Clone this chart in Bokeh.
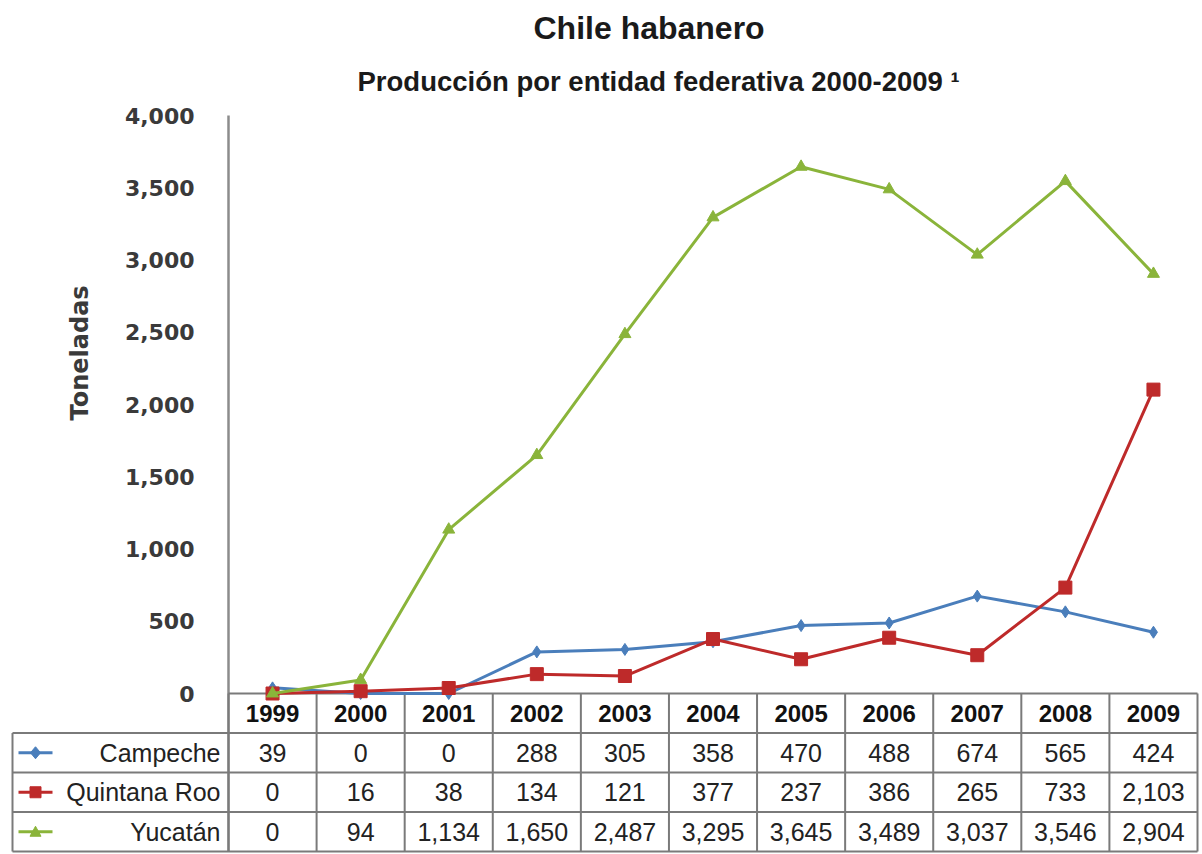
from bokeh.plotting import figure
from bokeh.models import Range1d, FixedTicker, NumeralTickFormatter, Title
from bokeh.embed import file_html
from bokeh.resources import INLINE
from bokeh.core.properties import value

# ---------------- data ----------------
years = [1999, 2000, 2001, 2002, 2003, 2004, 2005, 2006, 2007, 2008, 2009]
campeche = [39, 0, 0, 288, 305, 358, 470, 488, 674, 565, 424]
quintana_roo = [0, 16, 38, 134, 121, 377, 237, 386, 265, 733, 2103]
yucatan = [0, 94, 1134, 1650, 2487, 3295, 3645, 3489, 3037, 3546, 2904]
series_names = ["Campeche", "Quintana Roo", "Yucatán"]
y_ticks = [0, 500, 1000, 1500, 2000, 2500, 3000, 3500, 4000]
title_text = "Chile habanero"
subtitle_text = "Producción por entidad federativa 2000-2009 ¹"
y_label = "Toneladas"

# ---------------- styles ----------------
colors = ["#4A7EBB", "#BE2A2A", "#8AB43A"]
markers = ["diamond", "square", "triangle"]
marker_sizes = [12, 13, 12]
series = [campeche, quintana_roo, yucatan]
font = "Liberation Sans"
grid_col = "#7a7a7a"

BORDER_L = 228
BORDER_T = 115
FRAME_W = 969          # chart frame width (px)
CHART_H = 578          # height of 0..4000 part (px)
ROW_PX = 39.5          # table row height (px)
N_ROWS = 4
TABLE_H = ROW_PX * N_ROWS
LEFT_COL = 216         # width of the label column (px)

px_per_year = FRAME_W / len(years)
x0 = years[0] - 0.5
x1 = years[-1] + 0.5
px_per_val = CHART_H / y_ticks[-1]
y_bottom = -TABLE_H / px_per_val

p = figure(width=BORDER_L + FRAME_W + 5, height=int(BORDER_T + CHART_H + TABLE_H + 2),
           x_range=Range1d(x0, x1), y_range=Range1d(y_bottom, y_ticks[-1]),
           output_backend="svg", toolbar_location=None,
           min_border_left=BORDER_L, min_border_right=5, min_border_top=BORDER_T,
           min_border_bottom=2)
p.xaxis.visible = False
p.xgrid.visible = False
p.ygrid.visible = False
p.outline_line_color = None

# table coordinate system: rows 0..4 downward, 0 at chart baseline
p.extra_y_ranges = {"table": Range1d(start=N_ROWS, end=-CHART_H / ROW_PX)}

ya = p.yaxis[0]
ya.ticker = FixedTicker(ticks=y_ticks)
ya.formatter = NumeralTickFormatter(format="0,0")
ya.major_tick_line_color = None
ya.minor_tick_line_color = None
ya.axis_line_color = "#8c8c8c"
ya.axis_line_width = 2.5
ya.major_label_text_font = "DejaVu Sans"
ya.major_label_text_font_style = "bold"
ya.major_label_text_font_size = "22px"
ya.major_label_text_color = "#3a3a3a"
ya.major_label_standoff = 28

p.add_layout(Title(text=y_label, align="left", offset=int(TABLE_H) + 273, standoff=56,
                   text_font="DejaVu Sans", text_font_style="bold",
                   text_font_size="24px", text_color="#3a3a3a"), "left")
p.add_layout(Title(text=subtitle_text, align="left", offset=129, standoff=37,
                   text_font=font, text_font_style="bold",
                   text_font_size="27.5px", text_color="#1a1a1a"), "above")
p.add_layout(Title(text=title_text, align="left", offset=305, standoff=0,
                   text_font=font, text_font_style="bold",
                   text_font_size="32px", text_color="#1a1a1a"), "above")

# ---------------- table ----------------
xb = x0 - LEFT_COL / px_per_year
hx0 = [x0] + [xb] * N_ROWS
hy = list(range(N_ROWS + 1))
r = p.segment(x0=hx0, y0=hy, x1=[x1] * len(hy), y1=hy, line_color=grid_col,
              line_width=2, y_range_name="table")
r.level = "overlay"
vx = [x0 + k for k in range(len(years) + 1)]
r = p.segment(x0=vx, y0=[0] * len(vx), x1=vx, y1=[N_ROWS] * len(vx),
              line_color=grid_col, line_width=2, y_range_name="table")
r.level = "overlay"
r = p.segment(x0=[xb], y0=[1], x1=[xb], y1=[N_ROWS], line_color=grid_col,
              line_width=2, y_range_name="table")
r.level = "overlay"

r = p.text(x=years, y=[0.5] * len(years), text=[str(y) for y in years],
           text_align="center", text_baseline="middle", text_font=value(font),
           text_font_style="bold", text_font_size="24px", text_color="#111111",
           y_range_name="table")
r.level = "overlay"

# legend-key marker outlines (in px around the key centre)
key_shapes = {
    "diamond": ([-5, 0, 5, 0], [0, 6, 0, -6]),
    "square": ([-5.5, 5.5, 5.5, -5.5], [-5.5, -5.5, 5.5, 5.5]),
    "triangle": ([-5.5, 0, 5.5], [-4.5, 5.5, -4.5]),
}

for i, (name, vals, c, m, s) in enumerate(zip(series_names, series, colors, markers, marker_sizes)):
    yy = i + 1.5
    r = p.text(x=years, y=[yy] * len(years), text=[f"{v:,}" for v in vals],
               text_align="center", text_baseline="middle", text_font=value(font),
               text_font_size="25px", text_color="#222222", y_range_name="table")
    r.level = "overlay"
    r = p.text(x=[x0 - 8 / px_per_year], y=[yy], text=[name],
               text_align="right", text_baseline="middle", text_font=value(font),
               text_font_size="25px", text_color="#222222", y_range_name="table")
    r.level = "overlay"
    lx0 = xb + 6 / px_per_year
    lx1 = xb + 40 / px_per_year
    r = p.segment(x0=[lx0], y0=[yy], x1=[lx1], y1=[yy], line_color=c, line_width=3,
                  y_range_name="table")
    r.level = "overlay"
    cx = (lx0 + lx1) / 2
    dx, dy = key_shapes[m]
    r = p.patch(x=[cx + d / px_per_year for d in dx], y=[yy - d / ROW_PX for d in dy],
                fill_color=c, line_color=c, y_range_name="table")
    r.level = "overlay"

# ---------------- series ----------------
for vals, c, m, s in zip(series, colors, markers, marker_sizes):
    r = p.line(years, vals, line_color=c, line_width=3)
    r.level = "overlay"
    r = p.scatter(years, vals, marker=m, size=s, fill_color=c, line_color=c)
    r.level = "overlay"

open("out.html", "w").write(file_html(p, INLINE))
